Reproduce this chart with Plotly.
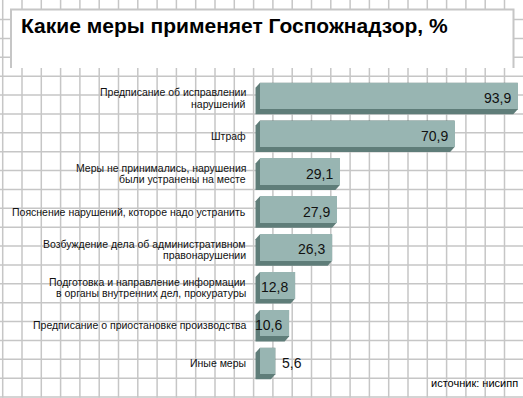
import plotly.graph_objects as go

# ---------------- data ----------------
categories = [
    "Предписание об исправлении<br>нарушений",
    "Штраф",
    "Меры не принимались, нарушения<br>были устранены на месте",
    "Пояснение нарушений, которое надо устранить",
    "Возбуждение дела об административном<br>правонарушении",
    "Подготовка и направление информации<br>в органы внутренних дел, прокуратуры",
    "Предписание о приостановке производства",
    "Иные меры",
]
values = [93.9, 70.9, 29.1, 27.9, 26.3, 12.8, 10.6, 5.6]
value_labels = ["93,9", "70,9", "29,1", "27,9", "26,3", "12,8", "10,6", "5,6"]
title_text = "Какие меры применяет Госпожнадзор, %"
source_text = "источник: нисипп"

# ---------------- layout geometry ----------------
W, H = 523, 398
PX_PER_UNIT = 2.745          # horizontal pixels per percent
X0_PX = 260                  # pixel of value 0
PITCH = 37.93                # pixels per category
FIRST_CENTER = 96.0          # pixel y of first bar centre

L = 250
R = 0
T = FIRST_CENTER - PITCH / 2
n = len(values)
B = H - (T + n * PITCH)
pw = W - L - R
ph = H - T - B

xmin = (L - X0_PX) / PX_PER_UNIT
xmax = (W - R - X0_PX) / PX_PER_UNIT


def px2x(px):
    return (px - L) / pw


def py2y(py):
    return (H - B - py) / ph


FRONT = "#98b5b2"
SIDE = "#5f7d79"
GRID = "#c6c6c6"
BAR_W = 0.70
DX = -4.5 / PX_PER_UNIT      # extrusion to the left (data units)
DY = 5.0 / PITCH             # extrusion downwards (data units, reversed axis)

shapes = []
# background grid
k = 0
while True:
    gx = 2.7 + 19.3 * k
    if gx > W:
        break
    shapes.append(dict(type="line", xref="paper", yref="paper",
                       x0=px2x(gx), x1=px2x(gx), y0=py2y(0), y1=py2y(H),
                       line=dict(color=GRID, width=1.5), layer="below"))
    k += 1
k = 1
while True:
    gy = 0.6 + 18.9 * k
    if gy > H:
        break
    shapes.append(dict(type="line", xref="paper", yref="paper",
                       x0=px2x(0), x1=px2x(W), y0=py2y(gy), y1=py2y(gy),
                       line=dict(color=GRID, width=1.5), layer="below"))
    k += 1

# title box (white, open at the bottom)
bx0, bx1, by0, by1 = 11, 513.5, 9.5, 68
shapes.append(dict(type="rect", xref="paper", yref="paper",
                   x0=px2x(bx0), x1=px2x(bx1), y0=py2y(by1), y1=py2y(by0),
                   fillcolor="white", line=dict(width=0), layer="below"))
shapes.append(dict(type="path", xref="paper", yref="paper",
                   path=(f"M {px2x(bx0)},{py2y(by1)} L {px2x(bx0)},{py2y(by0)} "
                         f"L {px2x(bx1)},{py2y(by0)} L {px2x(bx1)},{py2y(by1)}"),
                   line=dict(color=GRID, width=2), layer="below"))

# 3D extrusion of each bar (drawn under the bar front faces)
for i, v in enumerate(values):
    top = i - BAR_W / 2
    bot = i + BAR_W / 2
    path = (f"M 0,{top} L {DX},{top + DY} L {DX},{bot + DY} "
            f"L {v + DX},{bot + DY} L {v},{bot} L {v},{top} Z")
    shapes.append(dict(type="path", xref="x", yref="y", path=path,
                       fillcolor=SIDE, line=dict(width=0), layer="below"))

fig = go.Figure()
fig.add_trace(go.Bar(
    x=values, y=list(range(n)), orientation="h", width=BAR_W,
    marker=dict(color=FRONT, line=dict(width=0)),
    hoverinfo="x", showlegend=False,
))

annotations = []
# value labels
for i, (v, lab) in enumerate(zip(values, value_labels)):
    inside = v >= 8
    annotations.append(dict(
        x=v, y=i, xref="x", yref="y", text=lab, showarrow=False,
        xanchor="right" if inside else "left",
        xshift=-5 if inside else 5, yshift=-2,
        font=dict(family="Liberation Sans", size=14, color="#111"),
    ))

# category labels, one annotation per line
LINE_H = 11.5
for i, c in enumerate(categories):
    lines = c.split("<br>")
    m = len(lines)
    for j, ln in enumerate(lines):
        off = (j - (m - 1) / 2) * LINE_H + 2
        annotations.append(dict(
            x=px2x(247.5), y=i, xref="paper", yref="y", text=ln, showarrow=False,
            xanchor="right", yanchor="middle", yshift=-off,
            font=dict(family="Liberation Sans", size=10.5, color="#111"),
        ))

# title
annotations.append(dict(
    x=px2x(19), y=py2y(25), xref="paper", yref="paper", text=title_text,
    showarrow=False, xanchor="left", yanchor="middle",
    font=dict(family="Liberation Sans", size=21, color="black", weight="bold"),
))
# source
annotations.append(dict(
    x=px2x(520), y=py2y(383), xref="paper", yref="paper", text=source_text,
    showarrow=False, xanchor="right", yanchor="middle",
    font=dict(family="Liberation Sans", size=11, color="black"),
))

fig.update_layout(
    width=W, height=H,
    margin=dict(l=L, r=R, t=T, b=B, pad=0),
    paper_bgcolor="white", plot_bgcolor="rgba(0,0,0,0)",
    xaxis=dict(range=[xmin, xmax], visible=False, fixedrange=True),
    yaxis=dict(range=[n - 0.5, -0.5], visible=False, fixedrange=True),
    shapes=shapes, annotations=annotations,
    showlegend=False, bargap=0,
)

fig.write_html(
    "out.html",
    config={"displayModeBar": False},
    post_script="document.body.style.margin='0';document.body.style.overflow='hidden';",
)
